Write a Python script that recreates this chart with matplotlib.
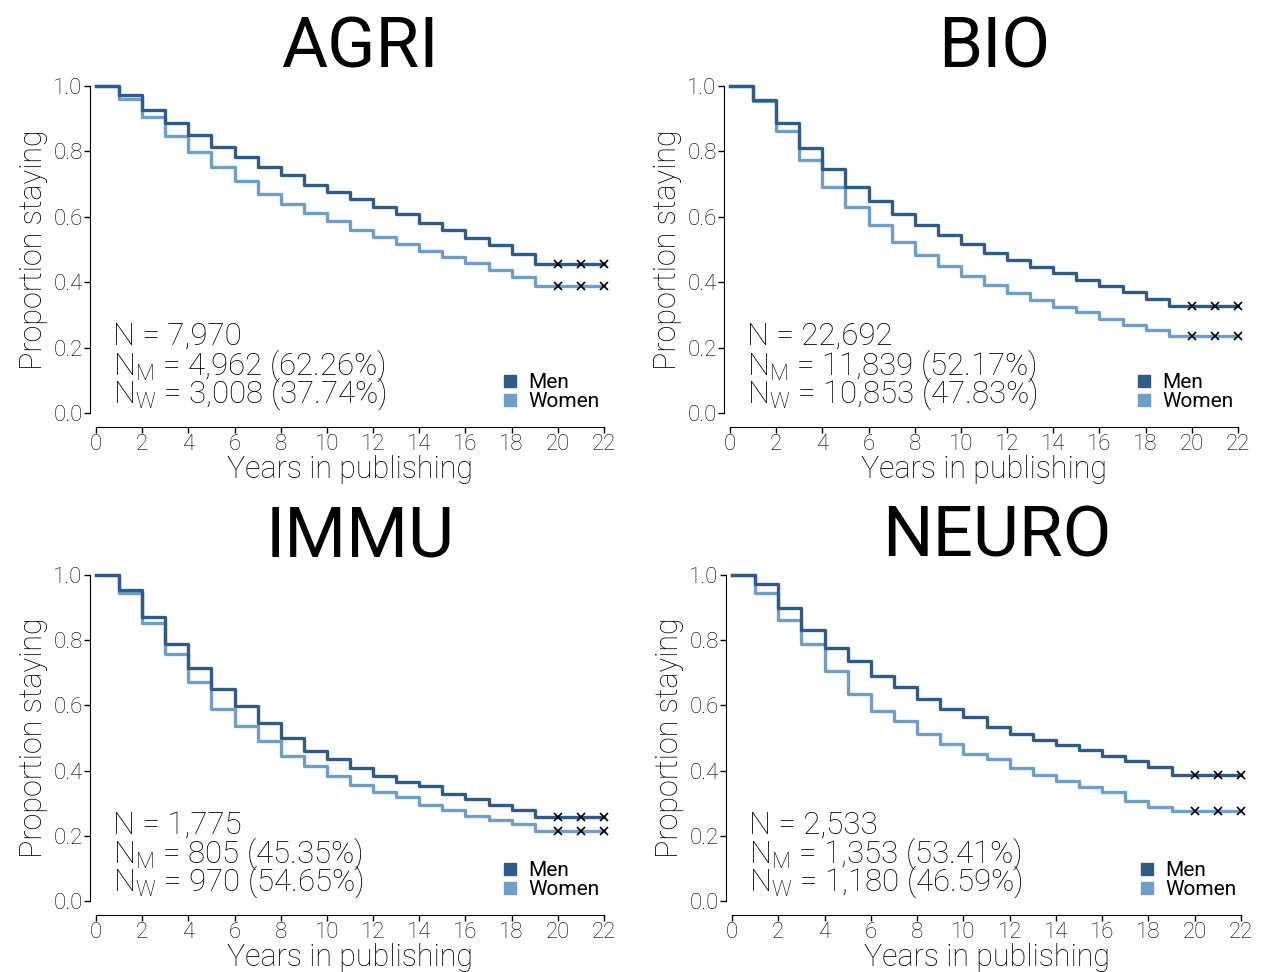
import matplotlib
matplotlib.use("Agg")
import matplotlib.pyplot as plt
from matplotlib.lines import Line2D

plt.rcParams['font.family'] = ['Roboto', 'DejaVu Sans']
plt.rcParams['mathtext.fontset'] = 'custom'
plt.rcParams['mathtext.rm'] = 'Roboto:light'

years = list(range(0, 23))
censor_years = [20, 21, 22]
xticks = list(range(0, 23, 2))
yticks = [0.0, 0.2, 0.4, 0.6, 0.8, 1.0]

titles = ["AGRI", "BIO", "IMMU", "NEURO"]

agri_men = [1.0, 0.973, 0.926, 0.886, 0.850, 0.814, 0.782, 0.753, 0.728, 0.697, 0.675, 0.653,
            0.629, 0.608, 0.581, 0.561, 0.536, 0.515, 0.487, 0.455, 0.455, 0.455, 0.455]
agri_women = [1.0, 0.960, 0.906, 0.848, 0.799, 0.751, 0.710, 0.671, 0.639, 0.613, 0.587, 0.561,
              0.539, 0.516, 0.495, 0.477, 0.459, 0.437, 0.415, 0.388, 0.388, 0.388, 0.388]
bio_men = [1.0, 0.958, 0.886, 0.810, 0.747, 0.692, 0.647, 0.609, 0.574, 0.544, 0.516, 0.490,
           0.468, 0.447, 0.427, 0.408, 0.389, 0.369, 0.349, 0.327, 0.327, 0.327, 0.327]
bio_women = [1.0, 0.954, 0.863, 0.775, 0.692, 0.630, 0.575, 0.524, 0.484, 0.451, 0.419, 0.392,
             0.368, 0.346, 0.325, 0.308, 0.287, 0.269, 0.253, 0.235, 0.235, 0.235, 0.235]
immu_men = [1.0, 0.953, 0.871, 0.788, 0.715, 0.649, 0.597, 0.546, 0.501, 0.461, 0.436, 0.408,
            0.383, 0.364, 0.352, 0.329, 0.313, 0.296, 0.280, 0.258, 0.258, 0.258, 0.258]
immu_women = [1.0, 0.945, 0.853, 0.757, 0.673, 0.590, 0.538, 0.490, 0.446, 0.413, 0.383, 0.355,
              0.335, 0.318, 0.296, 0.279, 0.262, 0.248, 0.237, 0.216, 0.216, 0.216, 0.216]
neuro_men = [1.0, 0.971, 0.900, 0.830, 0.775, 0.735, 0.689, 0.656, 0.620, 0.589, 0.564, 0.534,
             0.513, 0.494, 0.480, 0.462, 0.445, 0.429, 0.410, 0.386, 0.386, 0.386, 0.386]
neuro_women = [1.0, 0.946, 0.862, 0.788, 0.707, 0.635, 0.584, 0.553, 0.513, 0.481, 0.452, 0.435,
               0.408, 0.387, 0.369, 0.349, 0.334, 0.308, 0.288, 0.276, 0.276, 0.276, 0.276]

n_total = ["7,970", "22,692", "1,775", "2,533"]
n_men = ["4,962 (62.26%)", "11,839 (52.17%)", "805 (45.35%)", "1,353 (53.41%)"]
n_women = ["3,008 (37.74%)", "10,853 (47.83%)", "970 (54.65%)", "1,180 (46.59%)"]

men_series = [agri_men, bio_men, immu_men, neuro_men]
women_series = [agri_women, bio_women, immu_women, neuro_women]

men_color = "#2e5b8a"
women_color = "#6d9fca"
txt = "#000000"

W, H = 1263, 972
fig = plt.figure(figsize=(W / 100, H / 100), dpi=100)

# pixel boxes: (x0, x22, y_top(1.0), y_bottom(0.0))
boxes = [(96, 604, 86, 413), (730, 1238, 86, 413), (96, 604, 575, 901), (732, 1241, 575, 901)]

for i, (x0, x1, yt, yb) in enumerate(boxes):
    ax = fig.add_axes([x0 / W, 1 - yb / H, (x1 - x0) / W, (yb - yt) / H])
    ax.set_xlim(0, 22)
    ax.set_ylim(0, 1)
    ax.step(years, women_series[i], where='post', color=women_color, lw=2.4, clip_on=False)
    ax.step(years, men_series[i], where='post', color=men_color, lw=2.4, clip_on=False)
    for s in (women_series[i], men_series[i]):
        ax.plot(censor_years, [s[y] for y in censor_years], ls='none', marker='x',
                color='black', ms=6, mew=1.2, clip_on=False)
    for sp in ('top', 'right'):
        ax.spines[sp].set_visible(False)
    ax.spines['left'].set_position(('outward', 4.5))
    ax.spines['bottom'].set_position(('outward', 10))
    ax.spines['left'].set_bounds(0, 1)
    ax.spines['bottom'].set_bounds(0, 22)
    ax.set_xticks(xticks)
    ax.set_yticks(yticks)
    ax.set_yticklabels([f"{v:.1f}" for v in yticks])
    ax.tick_params(labelsize=16, length=4, width=1, pad=1, labelcolor=txt)
    for lab in ax.get_xticklabels() + ax.get_yticklabels():
        lab.set_fontweight('light')
    ax.set_xlabel("Years in publishing", fontsize=22, fontweight='light', labelpad=0, color=txt)
    ax.set_ylabel("Proportion staying", fontsize=22, fontweight='light', labelpad=4, color=txt)
    ax.set_title(titles[i], fontsize=51, pad=13, x=0.52, fontweight='normal', color=txt)
    ax.text(0.74, 0.234, "N = " + n_total[i], fontsize=22.5, fontweight='light', va='center', color=txt)
    ax.text(0.74, 0.146, r"N$_{\mathregular{M}}$ = " + n_men[i], fontsize=22.5, fontweight='light',
            va='center', color=txt)
    ax.text(0.74, 0.058, r"N$_{\mathregular{W}}$ = " + n_women[i], fontsize=22.5, fontweight='light',
            va='center', color=txt)
    handles = [Line2D([], [], ls='none', marker='s', ms=8, color=men_color),
               Line2D([], [], ls='none', marker='s', ms=8, color=women_color)]
    leg = ax.legend(handles, ["Men", "Women"], loc='lower right', bbox_to_anchor=(1.02, -0.04),
                    frameon=False, fontsize=15, handlelength=0.8, handletextpad=0.5,
                    labelspacing=0.0, borderpad=0.2)
    for t in leg.get_texts():
        t.set_color(txt)

fig.savefig("out.png", dpi=100)
